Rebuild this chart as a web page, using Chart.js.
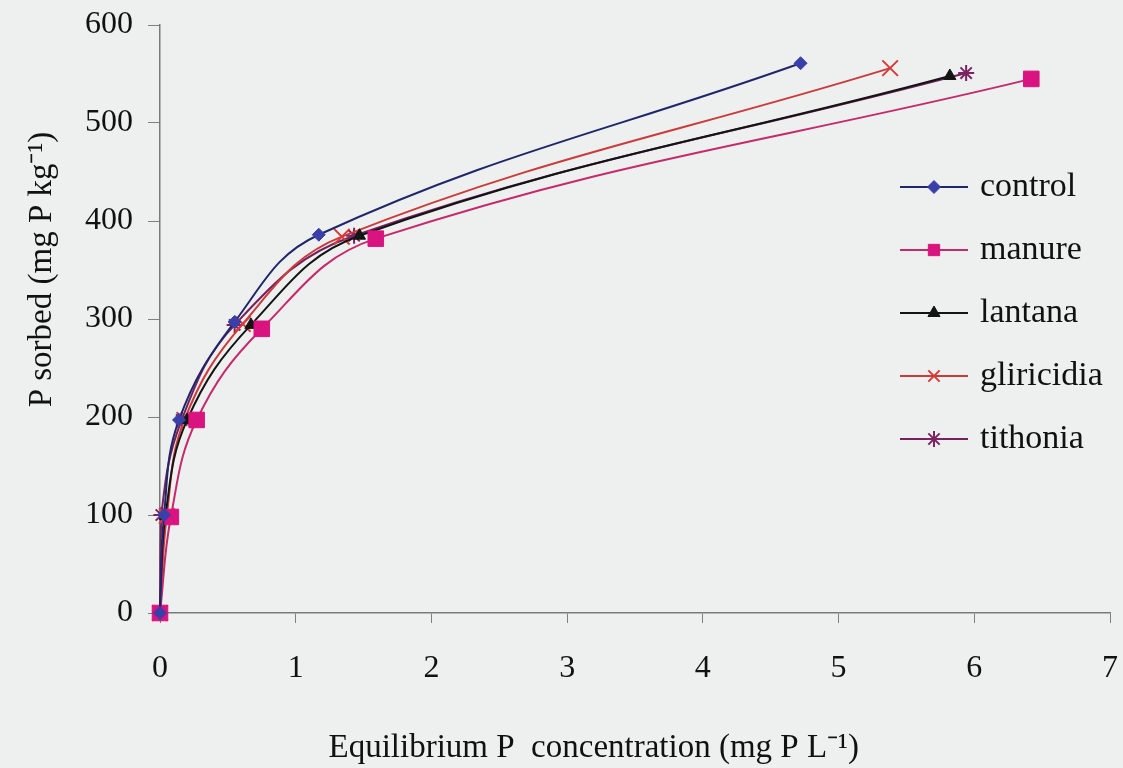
<!DOCTYPE html>
<html>
<head>
<meta charset="utf-8">
<script src="https://cdn.jsdelivr.net/npm/chart.js@4/dist/chart.umd.min.js"></script>
<style>
  html, body { margin: 0; padding: 0; background: #eef0ef; }
  #wrap { width: 1123px; height: 768px; position: relative; }
</style>
</head>
<body>
<div id="wrap"><canvas id="c" width="1123" height="768"></canvas></div>
<script>
// ---- data ----
const seriesNames = ['control', 'manure', 'lantana', 'gliricidia', 'tithonia'];
const controlX    = [0, 0.03, 0.14, 0.55, 1.17, 4.72];
const controlY    = [0, 100, 197, 297, 386, 561];
const manureX     = [0, 0.08, 0.27, 0.75, 1.59, 6.42];
const manureY     = [0, 98, 197, 290, 382, 545];
const lantanaX    = [0, 0.04, 0.20, 0.67, 1.47, 5.82];
const lantanaY    = [0, 99, 197, 294, 385, 548];
const gliricidiaX = [0, 0.05, 0.18, 0.61, 1.34, 5.38];
const gliricidiaY = [0, 99, 197, 295, 384, 556];
const tithoniaX   = [0, 0.01, 0.16, 0.55, 1.43, 5.94];
const tithoniaY   = [0, 100, 197, 294, 385, 551];
const xTicks = [0, 1, 2, 3, 4, 5, 6, 7];
const yTicks = [0, 100, 200, 300, 400, 500, 600];
const xTitle = 'Equilibrium P  concentration (mg P L\u207B\u00B9)';
const yTitle = 'P sorbed (mg P kg\u207B\u00B9)';

const pts = (xs, ys) => xs.map((x, i) => ({ x: x, y: ys[i] }));

const styles = [
  { line: '#20266a', fill: '#3a40a8', point: 'rectRot', r: 6.5, bw: 1 },
  { line: '#c52a6c', fill: '#d9137f', point: 'rect', r: 11, bw: 1 },
  { line: '#141414', fill: '#141414', point: 'triangle', r: 7, bw: 1 },
  { line: '#cc3b3b', fill: '#d83a3a', point: 'crossRot', r: 11, bw: 2 },
  { line: '#74225f', fill: '#7b2463', point: 'star', r: 8, bw: 2 }
];
const seriesData = [
  pts(controlX, controlY),
  pts(manureX, manureY),
  pts(lantanaX, lantanaY),
  pts(gliricidiaX, gliricidiaY),
  pts(tithoniaX, tithoniaY)
];

const datasets = seriesNames.map((n, i) => ({
  label: n,
  data: seriesData[i],
  showLine: true,
  clip: false,
  borderColor: styles[i].line,
  borderWidth: 2,
  backgroundColor: styles[i].fill,
  pointBackgroundColor: styles[i].fill,
  pointBorderColor: styles[i].fill,
  pointBorderWidth: styles[i].bw,
  pointStyle: styles[i].point,
  pointRadius: styles[i].r,
  tension: 0.4,
  fill: false
}));

const FONT = "'Liberation Serif', 'Times New Roman', serif";

const legendPlugin = {
  id: 'customLegend',
  afterDraw(chart) {
    const ctx = chart.ctx;
    ctx.save();
    chart.data.datasets.forEach((ds, i) => {
      const y = 187 + i * 63;
      ctx.strokeStyle = ds.borderColor;
      ctx.lineWidth = 2;
      ctx.beginPath();
      ctx.moveTo(900, y);
      ctx.lineTo(968, y);
      ctx.stroke();
      ctx.fillStyle = ds.pointBackgroundColor;
      ctx.strokeStyle = ds.pointBorderColor;
      ctx.lineWidth = ds.pointBorderWidth;
      Chart.helpers.drawPoint(ctx, { pointStyle: ds.pointStyle, radius: Math.min(ds.pointRadius, 8), rotation: 0, borderWidth: ds.pointBorderWidth }, 934, y);
      ctx.fillStyle = '#111';
      ctx.font = '34px ' + FONT;
      ctx.textAlign = 'left';
      ctx.textBaseline = 'middle';
      ctx.fillText(ds.label, 980, y);
    });
    ctx.restore();
  }
};

new Chart(document.getElementById('c'), {
  type: 'scatter',
  data: { datasets: datasets },
  plugins: [legendPlugin],
  options: {
    responsive: false,
    animation: false,
    layout: { padding: { left: 0, right: 13, top: 25, bottom: 0 } },
    plugins: { legend: { display: false }, tooltip: { enabled: false } },
    scales: {
      x: {
        type: 'linear', min: 0, max: 7,
        afterBuildTicks: (s) => { s.ticks = xTicks.map(v => ({ value: v })); },
        afterFit: (s) => { s.height = 155; s.paddingLeft = 0; s.paddingRight = 0; },
        grid: { drawOnChartArea: false, drawTicks: true, tickLength: 10, color: '#808080' },
        border: { display: true, color: '#7a7a7a', width: 1.5 },
        ticks: { color: '#111', font: { family: FONT, size: 32 }, padding: 26 },
        title: { display: true, text: xTitle + '\u00A0'.repeat(10), color: '#111', font: { family: FONT, size: 33 }, padding: { top: 0, bottom: 0 } }
      },
      y: {
        type: 'linear', min: 0, max: 600,
        afterBuildTicks: (s) => { s.ticks = yTicks.map(v => ({ value: v })); },
        afterFit: (s) => { s.width = 160; s.paddingTop = 0; s.paddingBottom = 0; },
        grid: { drawOnChartArea: false, drawTicks: true, tickLength: 12, color: '#808080' },
        border: { display: true, color: '#7a7a7a', width: 1.5 },
        ticks: { color: '#111', font: { family: FONT, size: 32 }, padding: 15 },
        title: { display: true, text: '\u00A0'.repeat(12) + yTitle, color: '#111', font: { family: FONT, size: 33 }, padding: { top: 23, bottom: 0 } }
      }
    }
  }
});
</script>
</body>
</html>
